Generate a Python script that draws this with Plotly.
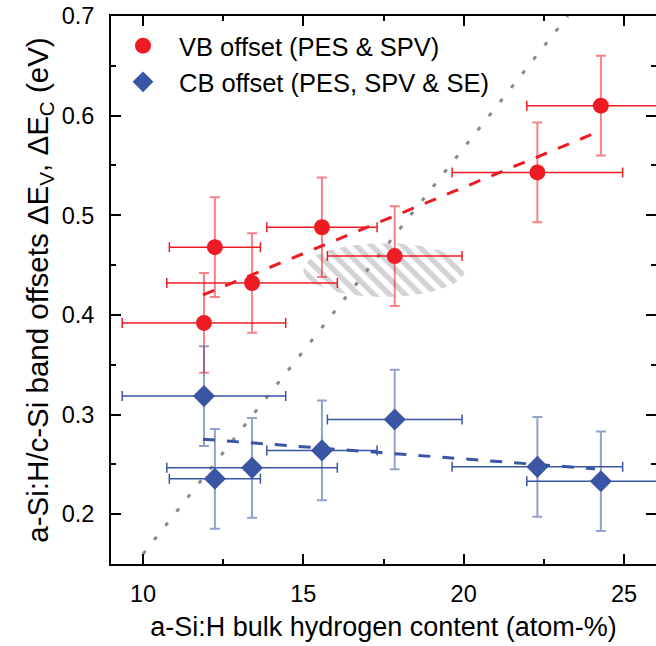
import numpy as np
import plotly.graph_objects as go

# ---- data ----
h_content = [11.90, 12.24, 13.40, 15.58, 17.85, 22.30, 24.28]
h_err = [2.55, 1.42, 2.66, 1.72, 2.10, 2.66, 2.31]
vb_offset = [0.392, 0.468, 0.432, 0.488, 0.459, 0.543, 0.610]
cb_offset = [0.3185, 0.2355, 0.2465, 0.264, 0.295, 0.2475, 0.233]
offset_err = [0.05] * 7

vb_fit_x = [11.87, 24.1]
vb_fit_y = [0.420, 0.5825]
cb_fit_x = [11.87, 24.1]
cb_fit_y = [0.2753, 0.2455]

guide_x = [10.0, 23.25]
guide_y = [0.16, 0.70]

# hatched region (centre and half-widths)
region_cx, region_cy = 17.52, 0.445
region_rx, region_ry = 2.52, 0.027

RED = "#ED1C24"
BLUE = "#3A55A4"
FONT = "Liberation Sans, Arial, sans-serif"

fig = go.Figure()

t = np.linspace(0, 2 * np.pi, 121)
fig.add_trace(go.Scatter(
    x=region_cx + region_rx * np.cos(t), y=region_cy + region_ry * np.sin(t),
    mode="lines", fill="toself", line=dict(width=0, color="rgba(0,0,0,0)"),
    fillcolor="rgba(0,0,0,0)",
    fillpattern=dict(shape="\\", fgcolor="#a8a8a8", bgcolor="rgba(0,0,0,0)",
                     size=11, solidity=0.5),
    showlegend=False, hoverinfo="skip"))

fig.add_trace(go.Scatter(
    x=guide_x, y=guide_y, mode="lines",
    line=dict(color="#8a8a8a", width=3, dash="4px,14px"),
    showlegend=False))

fig.add_trace(go.Scatter(
    x=vb_fit_x, y=vb_fit_y, mode="lines",
    line=dict(color=RED, width=3, dash="12px,12px"), showlegend=False))
fig.add_trace(go.Scatter(
    x=cb_fit_x, y=cb_fit_y, mode="lines",
    line=dict(color=BLUE, width=3, dash="12px,12px"), showlegend=False))

fig.add_trace(go.Scatter(
    x=h_content, y=vb_offset, mode="markers", name="VB offset (PES & SPV)",
    marker=dict(symbol="circle", size=16, color=RED),
    error_x=dict(type="data", array=h_err, color=RED, thickness=1.5, width=5),
    error_y=dict(type="data", array=offset_err, color="rgba(237,28,36,0.55)",
                 thickness=2, width=5)))
fig.add_trace(go.Scatter(
    x=h_content, y=cb_offset, mode="markers", name="CB offset (PES, SPV & SE)",
    marker=dict(symbol="diamond", size=17, color=BLUE),
    error_x=dict(type="data", array=h_err, color=BLUE, thickness=1.5, width=5),
    error_y=dict(type="data", array=offset_err, color="rgba(58,85,164,0.55)",
                 thickness=2, width=5)))

# invisible trace to carry right-hand ticks
fig.add_trace(go.Scatter(x=[None], y=[None], yaxis="y2", showlegend=False))

axis_common = dict(ticks="inside", ticklen=10, tickwidth=2, tickcolor="black",
                   showgrid=False, zeroline=False,
                   tickfont=dict(family=FONT, size=23.5, color="black"))

fig.update_layout(
    width=656, height=646,
    margin=dict(l=111, r=0, t=16, b=82),
    paper_bgcolor="white", plot_bgcolor="white",
    font=dict(family=FONT, color="black"),
    xaxis=dict(range=[9, 26], tickvals=[10, 15, 20, 25], showline=True,
               linecolor="black", linewidth=2, mirror="ticks",
               ticklabelstandoff=8,
               minor=dict(dtick=2.5, tick0=0, ticks="inside", ticklen=5,
                          tickwidth=2, tickcolor="black"),
               title=dict(text="a-Si:H bulk hydrogen content "
                               "<span style='font-size:27px'>(atom-%)</span>",
                          font=dict(family=FONT, size=27), standoff=11),
               **axis_common),
    yaxis=dict(range=[0.15, 0.7], tickvals=[0.2, 0.3, 0.4, 0.5, 0.6, 0.7],
               ticktext=["0.2", "0.3", "0.4", "0.5", "0.6", "0.7"],
               showline=True, linecolor="black", linewidth=2, mirror=False,
               ticklabelstandoff=10,
               minor=dict(dtick=0.05, tick0=0, ticks="inside", ticklen=5,
                          tickwidth=2, tickcolor="black"),
               title=dict(text="a-Si:H/c-Si band offsets ΔE<sub>V</sub>, ΔE<sub>C</sub> (eV)",
                          font=dict(family=FONT, size=29.5), standoff=4),
               **axis_common),
    yaxis2=dict(range=[0.15, 0.7], overlaying="y", side="right",
                tickvals=[0.2, 0.3, 0.4, 0.5, 0.6, 0.7], showticklabels=False,
                showline=False,
                minor=dict(dtick=0.05, tick0=0, ticks="inside", ticklen=5,
                           tickwidth=2, tickcolor="black"),
                **axis_common),
    legend=dict(x=-0.0073, y=0.988, xanchor="left", yanchor="top",
                bgcolor="rgba(0,0,0,0)", itemwidth=62,
                font=dict(family=FONT, size=25.5, color="black")),
)

fig.write_html("out.html")
